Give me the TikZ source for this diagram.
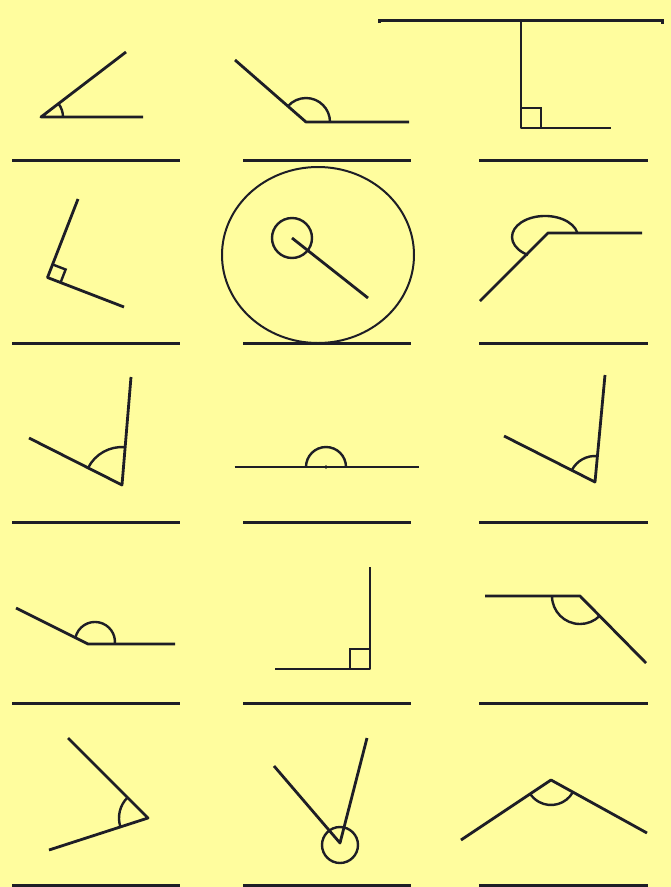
\documentclass[tikz,border=0pt]{standalone}
\usetikzlibrary{calc}
\definecolor{bg}{RGB}{255,253,158}
\definecolor{ink}{RGB}{30,30,38}
\begin{document}
\begin{tikzpicture}[x=1pt,y=-1pt,
  ray/.style={draw=ink,line width=2.8pt,line join=round},
  arcm/.style={draw=ink,line width=2.4pt},
  blank/.style={draw=ink,line width=3pt},
  thin ring/.style={draw=ink,line width=2pt}]
\fill[bg] (0,0) rectangle (671,887);
\useasboundingbox (0,0) rectangle (671,887);

% answer lines
\foreach \yy in {160,343,522,703,885}{
  \draw[blank] (12,\yy) -- (180,\yy);
  \draw[blank] (243,\yy) -- (411,\yy);
  \draw[blank] (479,\yy) -- (648,\yy);
}

% top line
\coordinate (tl) at (379,20);
\coordinate (tr) at (662,20);
\draw[blank,line join=miter] ($(tl)+(0,3)$) -- (tl) -- (tr) -- ($(tr)+(0,4)$);

% 1
\coordinate (v1) at (41,117);
\coordinate (a1) at (143,117);
\coordinate (b1) at (126,52);
\draw[ray] (b1) -- (v1) -- (a1);
\draw[arcm] (v1) ++(0:22) arc[start angle=0,end angle=-37.3,radius=22];

% 2
\coordinate (v2) at (306,122);
\coordinate (a2) at (409,122);
\coordinate (b2) at (235,60);
\draw[ray] (b2) -- (v2) -- (a2);
\draw[arcm] (v2) ++(0:24) arc[start angle=0,end angle=-138.6,radius=24];

% 3
\coordinate (v3) at (521,128);
\coordinate (a3) at (611,128);
\coordinate (b3) at (521,20);
\draw[ray] (b3) -- (v3) -- (a3);
\draw[arcm] ($(v3)+(0,-20)$) -- ($(v3)+(20,-20)$) -- ($(v3)+(20,0)$);

% 4
\coordinate (v4) at (47.5,277.5);
\coordinate (a4) at (124,307);
\coordinate (b4) at (78,199);
\draw[ray] (b4) -- (v4) -- (a4);
\coordinate (s4a) at ($(v4)!14pt!(b4)$);
\coordinate (s4b) at ($(v4)!14pt!(a4)$);
\draw[arcm] (s4a) -- ($(s4a)+(s4b)-(v4)$) -- (s4b);

% 5
\coordinate (c5) at (318,255);
\draw[thin ring] (c5) ellipse[x radius=96,y radius=88];
\coordinate (v5) at (292,238);
\coordinate (a5) at (368,298);
\draw[arcm] (v5) circle[radius=20];
\draw[ray] (v5) -- (a5);

% 6
\coordinate (v6) at (548,233);
\coordinate (a6) at (642,233);
\coordinate (b6) at (480,301);
\draw[ray] (b6) -- (v6) -- (a6);
\draw[arcm] (577.3,232.6) arc[start angle=-12,end angle=-239,x radius=33,y radius=21];

% 7
\coordinate (v7) at (122,485);
\coordinate (a7) at (29,438);
\coordinate (b7) at (131,377);
\draw[ray] (a7) -- (v7) -- (b7);
\draw[arcm] (v7) ++(-153:38) arc[start angle=-153,end angle=-85,radius=38];

% 8
\coordinate (v8) at (326,467);
\coordinate (a8) at (234.5,467);
\coordinate (b8) at (419,467);
\draw[ray] (a8) -- (v8) -- (b8);
\draw[arcm] (v8) ++(180:20) arc[start angle=180,end angle=360,radius=20];
\fill[ink] (v8) circle[radius=1.8];

% 9
\coordinate (v9) at (595,482);
\coordinate (a9) at (504,436);
\coordinate (b9) at (605,375);
\draw[ray] (a9) -- (v9) -- (b9);
\draw[arcm] (v9) ++(-153.3:26) arc[start angle=-153.3,end angle=-84.8,radius=26];

% 10
\coordinate (v10) at (88,644);
\coordinate (a10) at (175,644);
\coordinate (b10) at (16,608);
\draw[ray] (b10) -- (v10) -- (a10);
\draw[arcm] (75.4,637.8) arc[start angle=-168,end angle=6,radius=20];

% 11
\coordinate (v11) at (370,669);
\coordinate (a11) at (275,669);
\coordinate (b11) at (370,567);
\draw[ray] (a11) -- (v11) -- (b11);
\draw[arcm] ($(v11)+(-20,0)$) -- ($(v11)+(-20,-20)$) -- ($(v11)+(0,-20)$);

% 12
\coordinate (v12) at (580,596);
\coordinate (a12) at (485,596);
\coordinate (b12) at (646,663);
\draw[ray] (a12) -- (v12) -- (b12);
\draw[arcm] (v12) ++(180:28) arc[start angle=180,end angle=45.6,radius=28];

% 13
\coordinate (v13) at (148,818);
\coordinate (a13) at (49,850);
\coordinate (b13) at (68,738);
\draw[ray] (b13) -- (v13) -- (a13);
\draw[arcm] (v13) ++(162:29) arc[start angle=162,end angle=225,radius=29];

% 14
\coordinate (v14) at (340,843);
\coordinate (a14) at (274,766);
\coordinate (b14) at (367,738);
\draw[ray] (a14) -- (v14) -- (b14);
\draw[arcm] (340,845) circle[radius=18];

% 15
\coordinate (v15) at (551,780);
\coordinate (a15) at (461,840);
\coordinate (b15) at (647,833);
\draw[ray] (a15) -- (v15) -- (b15);
\draw[arcm] (v15) ++(29:25) arc[start angle=29,end angle=146,radius=25];
\end{tikzpicture}
\end{document}
